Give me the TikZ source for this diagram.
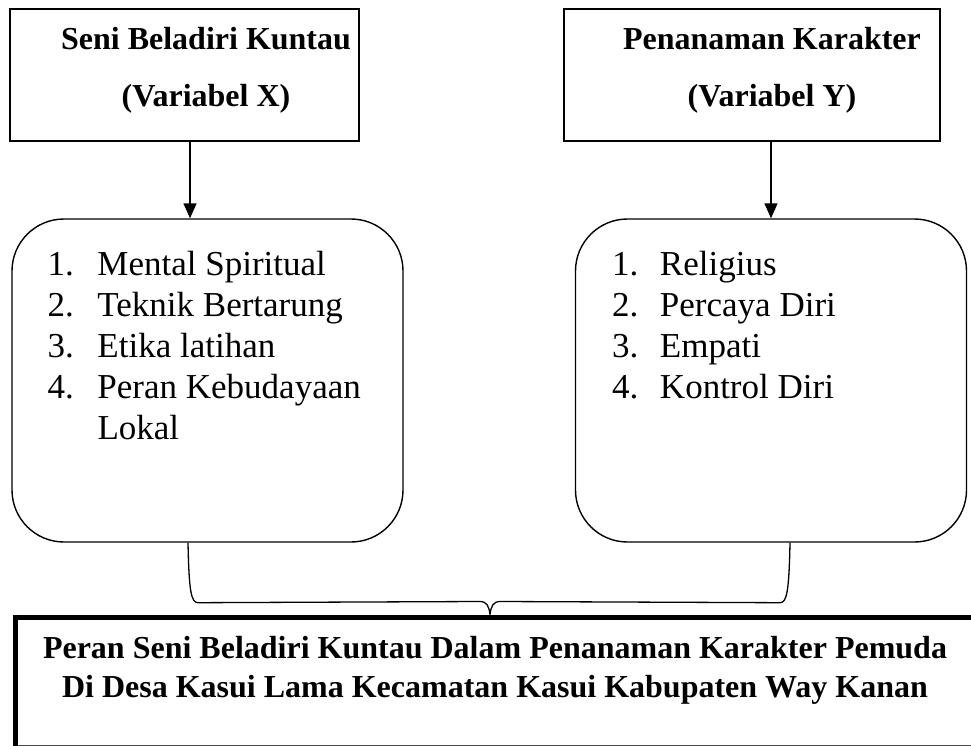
\documentclass[tikz,border=0pt]{standalone}
\usepackage{fontspec}
\setmainfont{Liberation Serif}
\usetikzlibrary{arrows.meta, positioning, calc}
\tikzset{
  varbox/.style={
    rectangle, draw=black, line width=1.4pt,
    minimum width=#1, minimum height=132pt, inner sep=0pt
  },
  vartitle/.style={
    align=center, inner sep=0pt,
    font=\fontsize{32}{57}\selectfont\bfseries
  },
  indbox/.style={
    rectangle, rounded corners=52pt, draw=black, line width=1.4pt,
    minimum width=391pt, minimum height=323pt, inner sep=0pt
  },
  indlist/.style={
    inner sep=0pt, anchor=north west,
    font=\fontsize{35}{41}\selectfont
  },
  downarrow/.style={-{Triangle[width=13pt,length=15pt]}, line width=1.4pt},
  bracepath/.style={line width=1.3pt, line join=round},
  goalbox/.style={
    rectangle, draw=black!70, line width=1pt,
    minimum width=964pt, minimum height=130pt, inner sep=0pt
  },
  goaltext/.style={
    align=center, inner sep=0pt,
    font=\fontsize{32}{39}\selectfont\bfseries
  },
}

\begin{document}
\begin{tikzpicture}[x=1pt,y=-1pt]
    \useasboundingbox (0,0) rectangle (971,746);
    \node[varbox=349pt] (xvar) at (184.5,75) {};
    \node[varbox=376pt] (yvar) at (752,75) {};
    \node[vartitle] (xtitle) at (206,70) {Seni Beladiri Kuntau\\(Variabel X)};
    \node[vartitle] (ytitle) at (772,70) {Penanaman Karakter\\(Variabel Y)};
    \node[indbox] (xind) at (207.5,380.5) {};
    \node[indbox] (yind) at (771,380.5) {};
    \draw[downarrow] ([xshift=5.5pt]xvar.south) -- ([xshift=5.5pt]xvar.south |- xind.north);
    \draw[downarrow] ([xshift=19pt]yvar.south) -- ([xshift=19pt]yvar.south |- yind.north);
    \node[indlist, below right=28pt and 36pt of xind.north west] (xlist)
         {\begin{tabular}{@{}p{50pt}@{}l@{}}
          1. & Mental Spiritual\\
          2. & Teknik Bertarung\\
          3. & Etika latihan\\
          4. & Peran Kebudayaan\\
             & Lokal
          \end{tabular}};
    \node[indlist, below right=28pt and 37pt of yind.north west] (ylist)
         {\begin{tabular}{@{}p{48pt}@{}l@{}}
          1. & Religius\\
          2. & Percaya Diri\\
          3. & Empati\\
          4. & Kontrol Diri
          \end{tabular}};
    \node[goalbox] (goalframe) at (495,680) {};
    \draw[line width=5pt] ($(goalframe.north east)+(0,2.5)$) -- ($(goalframe.north west)+(2.5,2.5)$)
         -- ($(goalframe.south west)+(2.5,0)$);
    \node[goaltext] (goal) at (495,670)
         {Peran Seni Beladiri Kuntau Dalam Penanaman Karakter Pemuda\\
          Di Desa Kasui Lama Kecamatan Kasui Kabupaten Way Kanan};
    \coordinate (bl) at ([xshift=-19.5pt]xind.south);
    \coordinate (br) at ([xshift=19pt]yind.south);
    \coordinate (tip) at (goalframe.north -| 490,0);
    \draw[bracepath] (bl) .. controls ($(bl)+(1,48)$) and ($(bl)+(3,60)$) .. ($(bl)+(10,60)$)
         -- ($(tip)+(-10,-13)$) .. controls ($(tip)+(-3,-13)$) and ($(tip)+(-1,-8)$) .. (tip)
         .. controls ($(tip)+(1,-8)$) and ($(tip)+(3,-13)$) .. ($(tip)+(10,-13)$)
         -- ($(br)+(-10,60)$) .. controls ($(br)+(-3,60)$) and ($(br)+(-1,48)$) .. (br);
\end{tikzpicture}
\end{document}
